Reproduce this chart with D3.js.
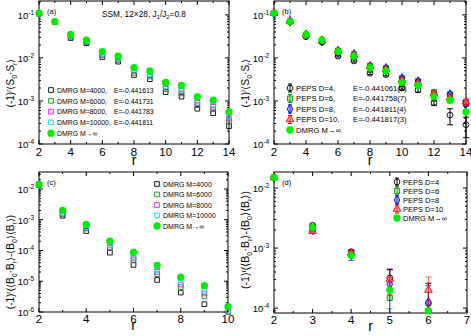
<!DOCTYPE html>
<html>
<head>
<meta charset="utf-8">
<script src="https://cdn.jsdelivr.net/npm/d3@7"></script>
<style>
  body { margin: 0; background: #fff; }
  svg { font-family: "Liberation Sans", Arial, sans-serif; }
</style>
</head>
<body>
<svg id="chart" width="471" height="336"></svg>
<script>
// ---- data ----
var rSpin = [2, 3, 4, 5, 6, 7, 8, 9, 10, 11, 12, 13, 14];
var spinM4000  = [0.108, 0.068, 0.029, 0.022, 0.0105, 0.0082, 0.0040, 0.0032, 0.0016, 0.00126, 0.00066, 0.00052, 0.00026];
var spinM6000  = [0.108, 0.069, 0.031, 0.023, 0.0115, 0.0090, 0.0045, 0.0037, 0.0019, 0.00150, 0.00080, 0.00064, 0.00034];
var spinM8000  = [0.108, 0.069, 0.032, 0.024, 0.0120, 0.0095, 0.0049, 0.0040, 0.0021, 0.00170, 0.00090, 0.00073, 0.00039];
var spinM10000 = [0.108, 0.070, 0.033, 0.0245, 0.0125, 0.0098, 0.0051, 0.0042, 0.0022, 0.00180, 0.00097, 0.00080, 0.00044];
var spinMinf   = [0.110, 0.070, 0.035, 0.026, 0.0140, 0.0110, 0.0059, 0.0050, 0.0027, 0.00230, 0.00125, 0.00104, 0.00056];

var spinD4   = [0.110, 0.069, 0.031, 0.023, 0.0110, 0.0085, 0.0044, 0.0041, 0.0020, 0.0018, 0.00090, 0.00047, 0.00028];
var spinD4e  = [0.002, 0.001, 0.001, 0.001, 0.0005, 0.0005, 0.0003, 0.0003, 0.0002, 0.0002, 0.00010, 0.00019, 0.00014];
var spinD6   = [0.110, 0.071, 0.034, 0.025, 0.0148, 0.0122, 0.0066, 0.0058, 0.0034, 0.0029, 0.0016, 0.00144, 0.00085];
var spinD6e  = [0.002, 0.001, 0.001, 0.001, 0.0005, 0.0005, 0.0003, 0.0003, 0.0002, 0.0002, 0.0001, 0.0001, 0.0001];
var spinD8   = [0.110, 0.071, 0.034, 0.025, 0.0140, 0.0120, 0.0063, 0.0057, 0.0033, 0.0028, 0.0014, 0.0014, 0.00090];
var spinD8e  = [0.002, 0.001, 0.001, 0.001, 0.0005, 0.0005, 0.0003, 0.0003, 0.0002, 0.0002, 0.0001, 0.0001, 0.0001];
var spinD10  = [0.110, 0.071, 0.035, 0.025, 0.0145, 0.0118, 0.0064, 0.0054, 0.0031, 0.0026, 0.0015, 0.0012, 0.00095];
var spinD10e = [0.002, 0.001, 0.001, 0.001, 0.0005, 0.0005, 0.0003, 0.0003, 0.0002, 0.0002, 0.0001, 0.0001, 0.00015];

var rDimer = [2, 3, 4, 5, 6, 7, 8, 9, 10];
var dimM4000  = [0.0135, 0.00135, 0.00043, 0.000085, 3.4e-5, 1.1e-5, 4.3e-6, 1.8e-6, 0.8e-6];
var dimM6000  = [0.0135, 0.00150, 0.00052, 0.000120, 4.8e-5, 1.7e-5, 6.5e-6, 3.2e-6, 1.0e-6];
var dimM8000  = [0.0135, 0.00160, 0.00055, 0.000130, 5.5e-5, 2.0e-5, 7.8e-6, 4.0e-6, 1.05e-6];
var dimM10000 = [0.0135, 0.00170, 0.00058, 0.000150, 6.0e-5, 2.3e-5, 9.3e-6, 4.8e-6, 1.1e-6];
var dimMinf   = [0.0140, 0.00200, 0.00070, 0.000200, 8.6e-5, 3.3e-5, 1.35e-5, 7.2e-6, 1.5e-6];

var rPeps = [2, 3, 4, 5, 6];
var dimD4   = [0.015, 0.0024, 0.00087, 0.00032, 0.00012];
var dimD4e  = [0.0003, 0.0001, 0.00005, 0.00012, 0.00014];
var dimD6   = [0.015, 0.0021, 0.00082, 0.000148, 0.00009];
var dimD6e  = [0.0003, 0.0001, 0.00005, 0.00005, 0.00015];
var dimD8   = [0.015, 0.0020, 0.00078, 0.00025, 0.000125];
var dimD8e  = [0.0003, 0.0001, 0.00016, 0.0002, 0.00011];
var dimD10  = [0.015, 0.0019, 0.00083, 0.00030, 0.00020];
var dimD10e = [0.0003, 0.0001, 0.00005, 0.00013, 0.00013];
var dimPepsMinf = [0.015, 0.0022, 0.00075, 0.00020, 0.00009];

var svg = d3.select("#chart");
var GREEN = "#00ee00";

function sym(type, size) {
  return d3.symbol().type(type).size(size)();
}

function drawPanel(p) {
  var x = d3.scaleLinear().domain(p.xdom).range([p.x0, p.x1]);
  var y = d3.scaleLog().domain(p.ydom).range([p.y1, p.y0]);
  var g = svg.append("g");

  // frame
  g.append("rect").attr("x", p.x0).attr("y", p.y0)
    .attr("width", p.x1 - p.x0).attr("height", p.y1 - p.y0)
    .attr("fill", "none").attr("stroke", "#000").attr("stroke-width", 1);

  // x ticks, inward on both sides
  p.xMajor.forEach(function (t) {
    g.append("line").attr("x1", x(t)).attr("x2", x(t)).attr("y1", p.y1).attr("y2", p.y1 - 4).attr("stroke", "#000");
    g.append("line").attr("x1", x(t)).attr("x2", x(t)).attr("y1", p.y0).attr("y2", p.y0 + 4).attr("stroke", "#000");
    g.append("text").attr("x", x(t)).attr("y", p.y1 + p.tickDy).attr("text-anchor", "middle")
      .attr("font-size", 11.5).text(t);
  });
  p.xMinor.forEach(function (t) {
    g.append("line").attr("x1", x(t)).attr("x2", x(t)).attr("y1", p.y1).attr("y2", p.y1 - 2).attr("stroke", "#000");
    g.append("line").attr("x1", x(t)).attr("x2", x(t)).attr("y1", p.y0).attr("y2", p.y0 + 2).attr("stroke", "#000");
  });
  g.append("text").attr("x", (p.x0 + p.x1) / 2).attr("y", p.y1 + p.titleDy)
    .attr("text-anchor", "middle").attr("font-size", 14).text("r");

  // log y ticks
  var lo = Math.floor(Math.log10(p.ydom[0])), hi = Math.ceil(Math.log10(p.ydom[1]));
  for (var e = lo; e <= hi; e++) {
    for (var m = 1; m < 10; m++) {
      var v = m * Math.pow(10, e);
      if (v < p.ydom[0] * 0.999 || v > p.ydom[1]) continue;
      var len = m === 1 ? 4 : 2;
      g.append("line").attr("x1", p.x0).attr("x2", p.x0 + len).attr("y1", y(v)).attr("y2", y(v)).attr("stroke", "#000");
      g.append("line").attr("x1", p.x1).attr("x2", p.x1 - len).attr("y1", y(v)).attr("y2", y(v)).attr("stroke", "#000");
      if (m === 1) {
        var t = g.append("text").attr("x", p.x0 - 5).attr("y", y(v) + 4)
          .attr("text-anchor", "end").attr("font-size", 9.5);
        t.append("tspan").text("10");
        t.append("tspan").attr("dy", -4).attr("font-size", 6.5).text(e);
      }
    }
  }

  // y title
  var yt = g.append("text")
    .attr("transform", "translate(" + (p.x0 - 25) + "," + p.ylabelY + ") rotate(-90)")
    .attr("text-anchor", "middle").attr("font-size", p.ylabelFont);
  p.ylabel.forEach(function (part) {
    var ts = yt.append("tspan").text(part[0]);
    if (part[1] === "sup") ts.attr("dy", -3.5).attr("font-size", p.ylabelFont * 0.7);
    if (part[1] === "sub") ts.attr("dy", 2.5).attr("font-size", p.ylabelFont * 0.7);
    if (part[1] === "back") ts.attr("dy", part[2]);
  });

  // panel tag
  g.append("text").attr("x", p.x0 + 8).attr("y", p.y0 + 13).attr("font-size", 7.5).text(p.tag);

  // series
  p.series.forEach(function (s) {
    var sg = g.append("g");
    if (s.err) {
      s.v.forEach(function (v, i) {
        var top = Math.min(v + s.err[i], p.ydom[1]);
        var bot = Math.max(v - s.err[i], p.ydom[0]);
        var cx = x(s.r[i]);
        sg.append("line").attr("x1", cx).attr("x2", cx).attr("y1", y(top)).attr("y2", y(bot))
          .attr("stroke", s.color).attr("stroke-width", 1).attr("opacity", s.errOpacity || 1);
        [top, bot].forEach(function (b, k) {
          if ((k === 1 && v - s.err[i] <= p.ydom[0])) return;
          sg.append("line").attr("x1", cx - 3).attr("x2", cx + 3).attr("y1", y(b)).attr("y2", y(b))
            .attr("stroke", s.color).attr("opacity", s.errOpacity || 1);
        });
      });
    }
    s.v.forEach(function (v, i) {
      if (v < p.ydom[0]) return;
      sg.append("path").attr("d", sym(s.type, s.size))
        .attr("transform", "translate(" + x(s.r[i]) + "," + y(v) + ")")
        .attr("fill", s.fill).attr("fill-opacity", s.fillOpacity == null ? 1 : s.fillOpacity)
        .attr("stroke", s.stroke || "none").attr("stroke-width", 0.9);
    });
  });

  // legend
  p.series.forEach(function (s, i) {
    var ly = p.legY + i * p.legStep;
    if (s.err) {
      g.append("line").attr("x1", p.legX).attr("x2", p.legX).attr("y1", ly - 4).attr("y2", ly + 4).attr("stroke", s.color);
      g.append("line").attr("x1", p.legX - 2).attr("x2", p.legX + 2).attr("y1", ly - 4).attr("y2", ly - 4).attr("stroke", s.color);
      g.append("line").attr("x1", p.legX - 2).attr("x2", p.legX + 2).attr("y1", ly + 4).attr("y2", ly + 4).attr("stroke", s.color);
    }
    g.append("path").attr("d", sym(s.type, s.size))
      .attr("transform", "translate(" + p.legX + "," + ly + ")")
      .attr("fill", s.fill).attr("fill-opacity", s.fillOpacity == null ? 1 : s.fillOpacity)
      .attr("stroke", s.stroke || "none").attr("stroke-width", 0.9);
    g.append("text").attr("x", p.legX + 6).attr("y", ly + 2.7).attr("font-size", p.legFont).text(s.name);
    if (s.energy) {
      g.append("text").attr("x", p.legE).attr("y", ly + 2.7).attr("font-size", p.legFont).text(s.energy);
    }
  });
  return g;
}

function dmrgSeries(r, vals, names, energies) {
  var colors = ["#000000", "#009900", "#ff00ff", "#00dddd"];
  var out = vals.slice(0, 4).map(function (v, i) {
    return { name: names[i], energy: energies ? energies[i] : null, r: r, v: v,
      type: d3.symbolSquare, size: 22, fill: "none", stroke: colors[i] };
  });
  out.push({ name: names[4], r: r, v: vals[4], type: d3.symbolCircle, size: 42, fill: GREEN });
  return out;
}

var spinLabel = [["(-1)"], ["r", "sup"], ["\u27e8S", "back", 3.5], ["0", "sub"], ["\u00b7S", "back", -2.5], ["r", "sub"], ["\u27e9", "back", -2.5]];
var dimLabel = [["(-1)"], ["r", "sup"], ["(\u27e8B", "back", 3.5], ["0", "sub"], ["\u00b7B", "back", -2.5], ["r", "sub"],
  ["\u27e9-\u27e8B", "back", -2.5], ["0", "sub"], ["\u27e9\u27e8B", "back", -2.5], ["r", "sub"], ["\u27e9)", "back", -2.5]];

var dmrgNames = ["DMRG M=4000,", "DMRG M=6000,", "DMRG M=8000,", "DMRG M=10000,", "DMRG  M\u2192\u221e"];
var dmrgEnergies = ["E=-0.441613", "E=-0.441731", "E=-0.441783", "E=-0.441811", null];
var dmrgNamesC = ["DMRG M=4000", "DMRG M=6000", "DMRG M=8000", "DMRG M=10000", "DMRG  M\u2192\u221e"];

// (a)
drawPanel({
  x0: 39, x1: 229, y0: 1, y1: 144, xdom: [2, 14], ydom: [1e-4, 0.21],
  xMajor: [2, 4, 6, 8, 10, 12, 14], xMinor: [3, 5, 7, 9, 11, 13], tickDy: 12, titleDy: 21,
  ylabel: spinLabel, ylabelY: 83, ylabelFont: 10, tag: "(a)",
  series: dmrgSeries(rSpin, [spinM4000, spinM6000, spinM8000, spinM10000, spinMinf], dmrgNames, dmrgEnergies),
  legX: 51, legY: 90, legStep: 10.8, legE: 114, legFont: 6.9
});
var tt = svg.append("text").attr("x", 102).attr("y", 17).attr("font-size", 8.3);
tt.append("tspan").text("SSM, 12\u00d728, J");
tt.append("tspan").attr("dy", 2).attr("font-size", 5.8).text("1");
tt.append("tspan").attr("dy", -2).text("/J");
tt.append("tspan").attr("dy", 2).attr("font-size", 5.8).text("2");
tt.append("tspan").attr("dy", -2).text("=0.8");

// (b)
drawPanel({
  x0: 274, x1: 466, y0: 1, y1: 144, xdom: [2, 14], ydom: [1e-4, 0.21],
  xMajor: [2, 4, 6, 8, 10, 12, 14], xMinor: [3, 5, 7, 9, 11, 13], tickDy: 12, titleDy: 21,
  ylabel: spinLabel, ylabelY: 83, ylabelFont: 10, tag: "(b)",
  series: [
    { name: "PEPS D=4,", energy: "E=-0.441061(8)", r: rSpin, v: spinD4, err: spinD4e, color: "#000",
      type: d3.symbolCircle, size: 26, fill: "none", stroke: "#000" },
    { name: "PEPS D=6,", energy: "E=-0.441758(7)", r: rSpin, v: spinD6, err: spinD6e, color: "#009900",
      type: d3.symbolSquare, size: 26, fill: "#66cc66", fillOpacity: 0.5, stroke: "#009900" },
    { name: "PEPS D=8,", energy: "E=-0.441811(4)", r: rSpin, v: spinD8, err: spinD8e, color: "#0000ff",
      type: d3.symbolDiamond, size: 28, fill: "#6666ff", fillOpacity: 0.5, stroke: "#0000ff" },
    { name: "PEPS D=10,", energy: "E=-0.441817(3)", r: rSpin, v: spinD10, err: spinD10e, color: "#ff0000",
      type: d3.symbolTriangle, size: 26, fill: "#ff6666", fillOpacity: 0.6, stroke: "#ff0000" },
    { name: "DMRG  M\u2192\u221e", r: rSpin, v: spinMinf, type: d3.symbolCircle, size: 42, fill: GREEN }
  ],
  legX: 290, legY: 88, legStep: 10.5, legE: 353, legFont: 7.7
});

// (c)
drawPanel({
  x0: 39, x1: 228, y0: 172, y1: 312, xdom: [2, 10], ydom: [1e-6, 0.0357],
  xMajor: [2, 4, 6, 8, 10], xMinor: [3, 5, 7, 9], tickDy: 11, titleDy: 18,
  ylabel: dimLabel, ylabelY: 262, ylabelFont: 10, tag: "(c)",
  series: dmrgSeries(rDimer, [dimM4000, dimM6000, dimM8000, dimM10000, dimMinf], dmrgNamesC, null),
  legX: 157, legY: 184, legStep: 10.5, legE: 0, legFont: 7
});

// (d)
drawPanel({
  x0: 274, x1: 467, y0: 172, y1: 313, xdom: [2, 7], ydom: [8.3e-5, 0.0185],
  xMajor: [2, 3, 4, 5, 6, 7], xMinor: [2.5, 3.5, 4.5, 5.5, 6.5], tickDy: 11, titleDy: 18,
  ylabel: dimLabel, ylabelY: 240, ylabelFont: 10.5, tag: "(d)",
  series: [
    { name: "PEPS D=4", r: rPeps, v: dimD4, err: dimD4e, color: "#000",
      type: d3.symbolCircle, size: 26, fill: "none", stroke: "#000" },
    { name: "PEPS D=6", r: rPeps, v: dimD6, err: dimD6e, color: "#009900", errOpacity: 0.6,
      type: d3.symbolSquare, size: 26, fill: "#66cc66", fillOpacity: 0.5, stroke: "#009900" },
    { name: "PEPS D=8", r: rPeps, v: dimD8, err: dimD8e, color: "#0000ff", errOpacity: 0.6,
      type: d3.symbolDiamond, size: 28, fill: "#6666ff", fillOpacity: 0.5, stroke: "#0000ff" },
    { name: "PEPS D=10", r: rPeps, v: dimD10, err: dimD10e, color: "#ff0000", errOpacity: 0.6,
      type: d3.symbolTriangle, size: 26, fill: "#ff6666", fillOpacity: 0.6, stroke: "#ff0000" },
    { name: "DMRG  M\u2192\u221e", r: rPeps, v: dimPepsMinf, type: d3.symbolCircle, size: 42, fill: GREEN }
  ],
  legX: 397, legY: 182, legStep: 9, legE: 0, legFont: 7.5
});
</script>
</body>
</html>
